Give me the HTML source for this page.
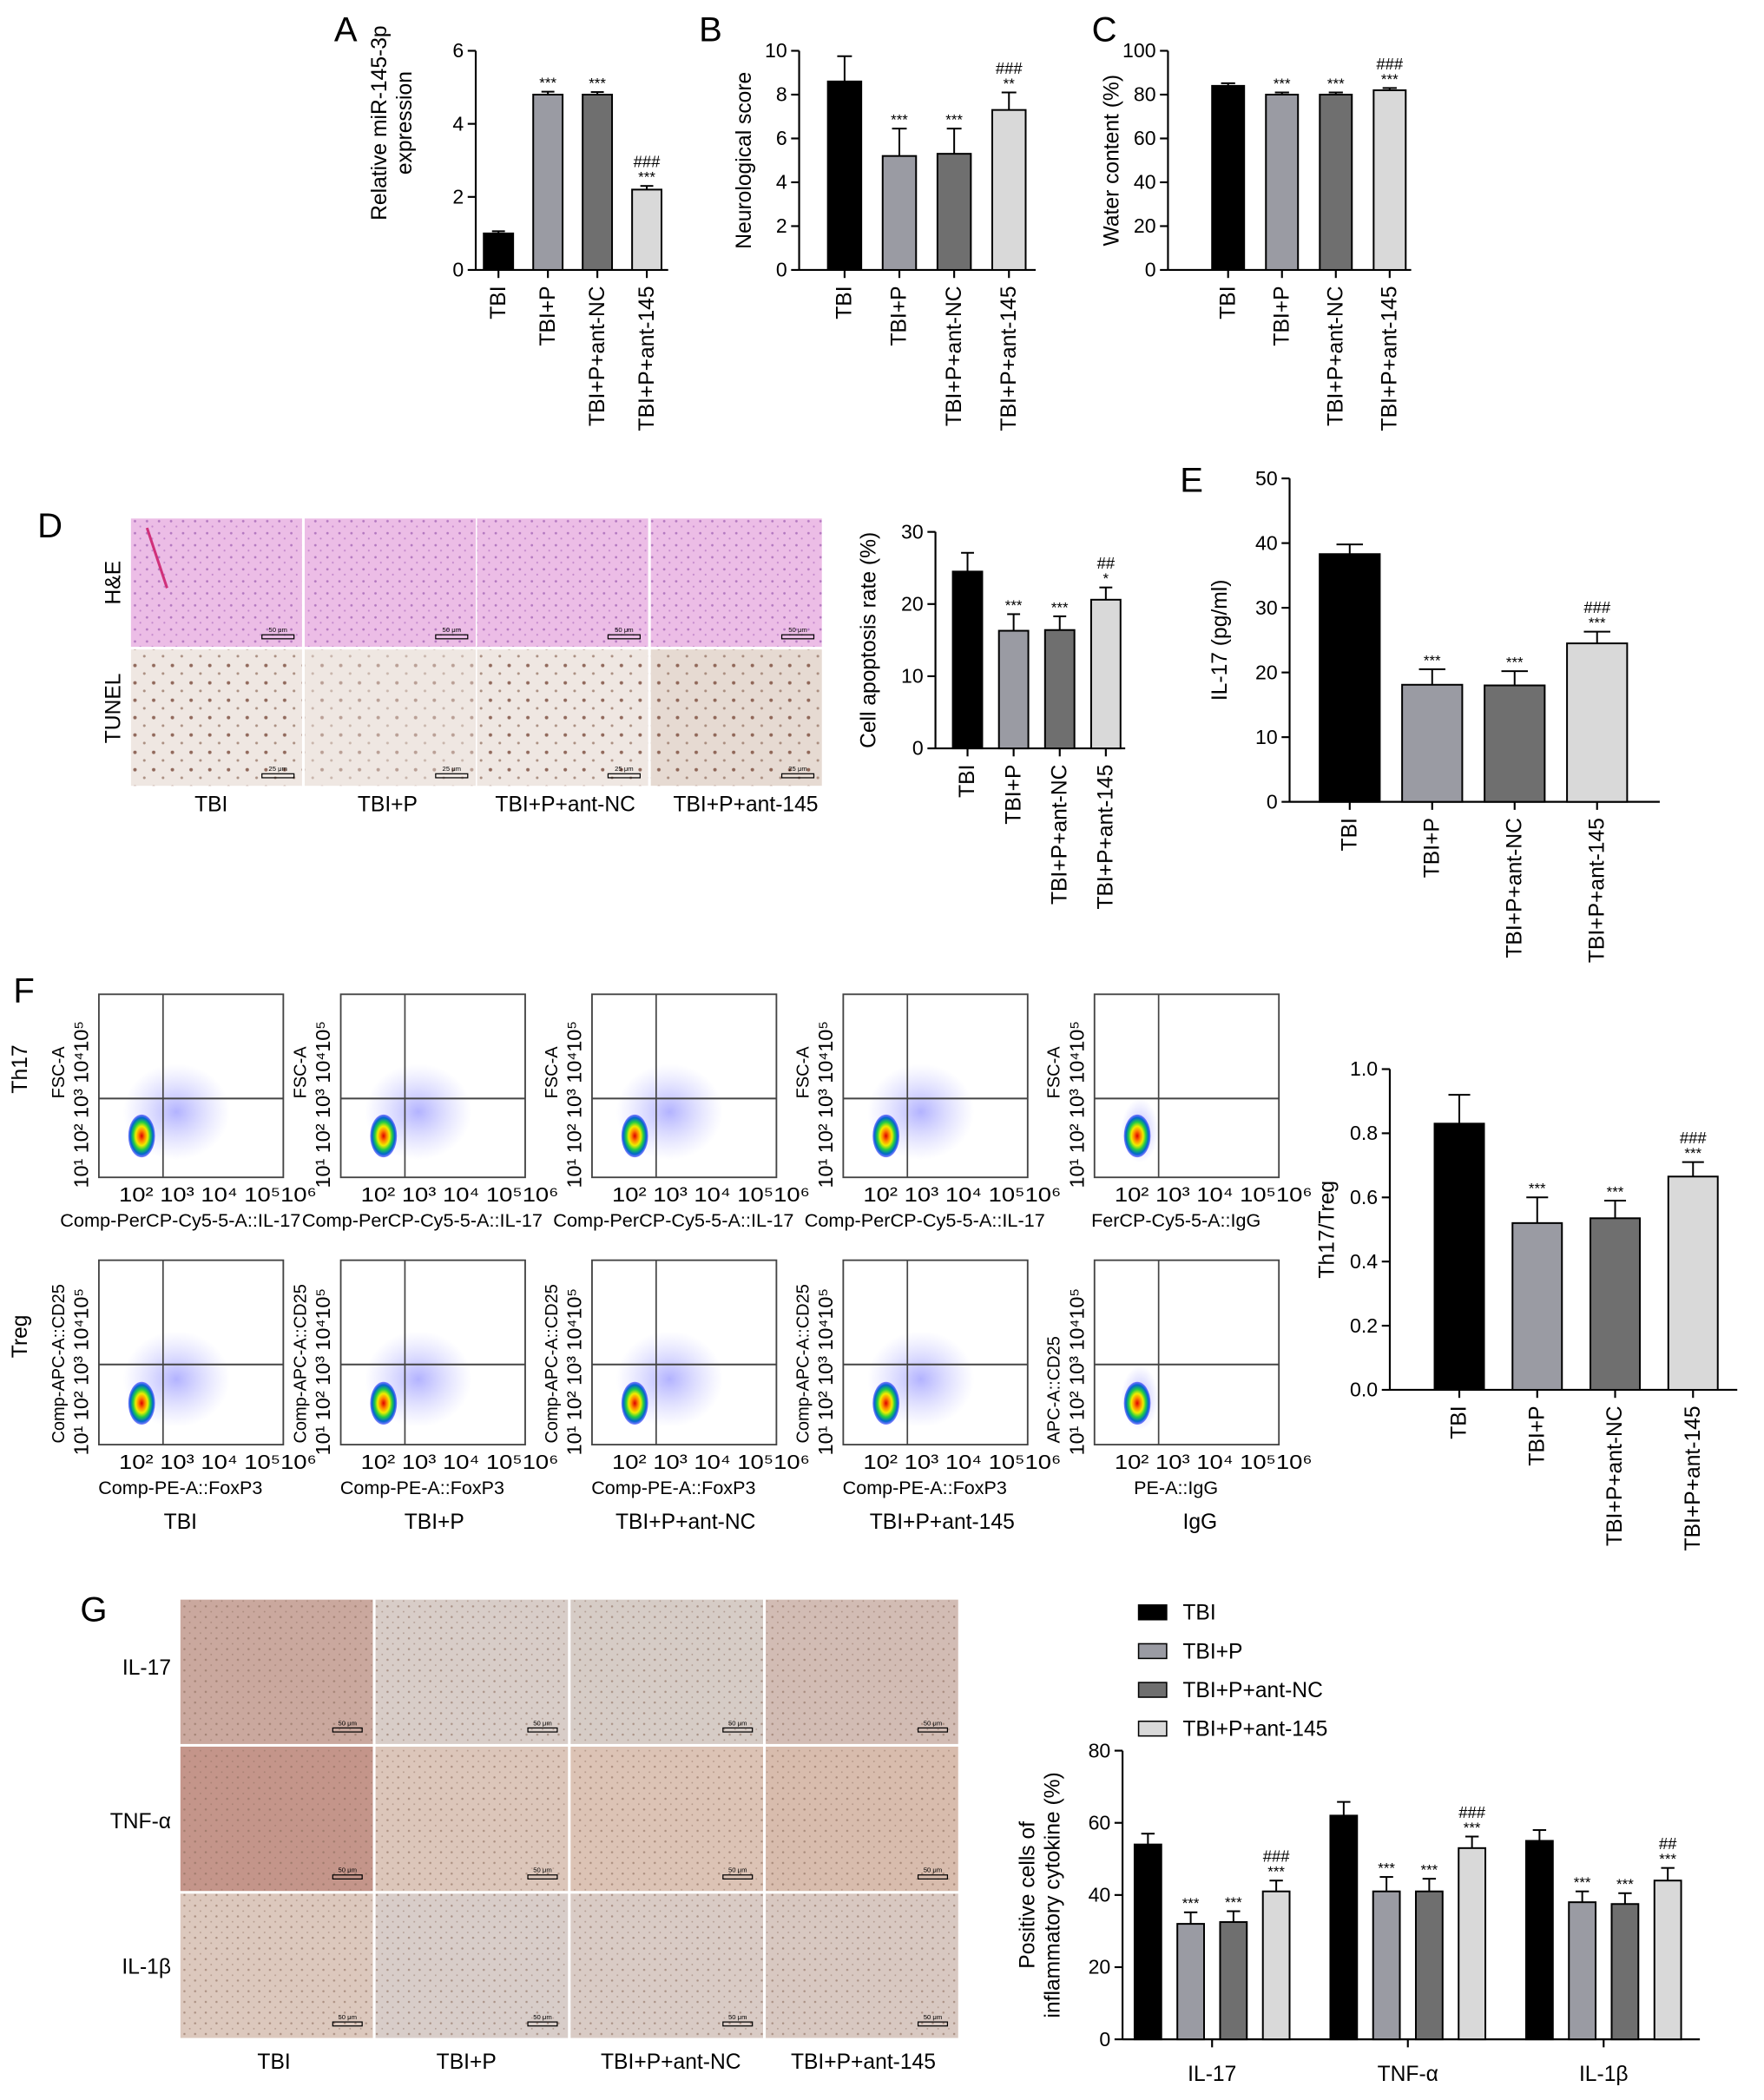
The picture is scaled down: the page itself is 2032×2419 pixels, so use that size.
<!DOCTYPE html>
<html><head><meta charset="utf-8"><style>
html,body{margin:0;padding:0;background:#fff}
svg{display:block}
text{font-family:"Liberation Sans",Arial,sans-serif;fill:#000}
</style></head><body>
<svg id="fig" xmlns="http://www.w3.org/2000/svg" width="2032" height="2419" viewBox="0 0 1320 1571.4">
<defs>
<radialGradient id="blob" cx="50%" cy="50%" r="50%">
<stop offset="0%" stop-color="#d00"/><stop offset="25%" stop-color="#f80"/><stop offset="45%" stop-color="#ee0"/><stop offset="65%" stop-color="#2c4"/><stop offset="85%" stop-color="#06c"/><stop offset="100%" stop-color="#33f" stop-opacity="0.6"/>
</radialGradient>
<radialGradient id="haze" cx="50%" cy="50%" r="50%">
<stop offset="0%" stop-color="#55f" stop-opacity="0.45"/><stop offset="100%" stop-color="#88f" stop-opacity="0"/>
</radialGradient>
<pattern id="dotsT" width="14" height="13" patternUnits="userSpaceOnUse"><circle cx="3" cy="4" r="1.3" fill="#7a4a3a"/><circle cx="10" cy="10" r="1" fill="#9a7a6a"/></pattern>
<pattern id="dotsH" width="9" height="9" patternUnits="userSpaceOnUse"><circle cx="2" cy="3" r="0.9" fill="#9a5ab0"/><circle cx="6" cy="7" r="0.7" fill="#b070c0"/></pattern>
<pattern id="dotsG" width="8" height="8" patternUnits="userSpaceOnUse"><circle cx="2" cy="2" r="0.8" fill="#8a6a5a" fill-opacity="0.6"/><circle cx="6" cy="6" r="0.6" fill="#8a6a5a" fill-opacity="0.5"/></pattern>
</defs>
</svg>
<script>
const groups=["TBI","TBI+P","TBI+P+ant-NC","TBI+P+ant-145"];
const colors=["#000000","#9a9ba3","#6f6f6f","#d9d9d9"];
const aValues=[1.0,4.8,4.8,2.2];
const aErrors=[0.06,0.08,0.07,0.1];
const aTicks=[0,2,4,6];
const aStars=["","***","***","***"];
const aHash=["","","","###"];
const bValues=[8.6,5.2,5.3,7.3];
const bErrors=[1.15,1.25,1.15,0.8];
const bTicks=[0,2,4,6,8,10];
const bStars=["","***","***","**"];
const bHash=["","","","###"];
const cValues=[84,80,80,82];
const cErrors=[1.2,1.0,1.0,1.0];
const cTicks=[0,20,40,60,80,100];
const cStars=["","***","***","***"];
const cHash=["","","","###"];
const dValues=[24.5,16.3,16.4,20.6];
const dErrors=[2.6,2.3,1.9,1.7];
const dTicks=[0,10,20,30];
const dStars=["","***","***","*"];
const dHash=["","","","##"];
const eValues=[38.3,18.1,18.0,24.5];
const eErrors=[1.5,2.4,2.2,1.8];
const eTicks=[0,10,20,30,40,50];
const eStars=["","***","***","***"];
const eHash=["","","","###"];
const fValues=[0.83,0.52,0.535,0.665];
const fErrors=[0.09,0.08,0.055,0.045];
const fTicks=[0.0,0.2,0.4,0.6,0.8,1.0];
const fStars=["","***","***","***"];
const fHash=["","","","###"];
const gCats=["IL-17","TNF-α","IL-1β"];
const gIL17=[54,32,32.5,41];
const gTNF=[62,41,41,53];
const gIL1b=[55,38,37.5,44];
const gErrIL17=[3,3.2,3,3];
const gErrTNF=[3.8,4,3.5,3.2];
const gErrIL1b=[3,3,3,3.5];
const gStars=["","***","***","***"];
const gHashes=["###","###","##"];
const gTicks=[0,20,40,60,80];

const NS="http://www.w3.org/2000/svg";
const svg=document.getElementById('fig');
function mk(tag,attrs,parent){const e=document.createElementNS(NS,tag);for(const k in attrs)e.setAttribute(k,attrs[k]);(parent||svg).appendChild(e);return e;}
function txt(s,x,y,size,attrs,parent){const t=mk('text',Object.assign({x:x,y:y,'font-size':size},attrs||{}),parent);t.textContent=s;return t;}

function barChart(cfg){
  const g=mk('g',{});
  
  
  const max=cfg.ticks[cfg.ticks.length-1];
  const ys=v=>cfg.yb-(v/max)*(cfg.yb-cfg.yt);
  const xs=i=>cfg.c0+i*cfg.step;
  const ya=mk('line',{x1:cfg.x0,y1:cfg.yt,x2:cfg.x0,y2:cfg.yb,stroke:'#000','stroke-width':1.4},g);
  
  
  cfg.ticks.forEach(t=>{
    mk('line',{x1:cfg.x0-6,y1:ys(t),x2:cfg.x0,y2:ys(t),stroke:'#000','stroke-width':1.4},g);
    const tl=txt(cfg.fmt?cfg.fmt(t):String(t),cfg.x0-9,ys(t)+5,cfg.fs||15,{'text-anchor':'end'},g);
    
    
  });
  const xa=mk('line',{x1:cfg.x0,y1:cfg.yb,x2:cfg.xe,y2:cfg.yb,stroke:'#000','stroke-width':1.4},g);
  
  
  cfg.values.forEach((v,i)=>{
    const cx=xs(i),w=cfg.bw;
    const top=ys(v),et=ys(v+cfg.errors[i]);
    mk('line',{x1:cx,y1:top,x2:cx,y2:et,stroke:'#000','stroke-width':1.3},g);
    mk('line',{x1:cx-w*0.22,y1:et,x2:cx+w*0.22,y2:et,stroke:'#000','stroke-width':1.3},g);
    const b=mk('rect',{x:cx-w/2,y:top,width:w,height:cfg.yb-top,fill:colors[i],stroke:'#000','stroke-width':1.3},g);
    
    
    mk('line',{x1:cx,y1:cfg.yb,x2:cx,y2:cfg.yb+6,stroke:'#000','stroke-width':1.4},g);
    if(cfg.stars[i]){const s=txt(cfg.stars[i],cx,et-3,11,{'text-anchor':'middle'},g);
      
      }
    if(cfg.hash[i]){const h=txt(cfg.hash[i],cx,et-14,12,{'text-anchor':'middle'},g);
      
      }
    const lx=cx+5,ly=cfg.yb+12;
    const xl=txt(groups[i],lx,ly,cfg.fs||16,{'text-anchor':'end',transform:`rotate(-90 ${lx} ${ly})`},g);
    
    
  });
  cfg.title.forEach((t,k)=>{
    const tx=cfg.tx+k*19,ty=(cfg.yt+cfg.yb)/2+(cfg.tyOff||0);
    const tt=txt(t,tx,ty,cfg.tfs||16,{'text-anchor':'middle',transform:`rotate(-90 ${tx} ${ty})`},g);
    
    
  });
}
function letter(s,x,y){const t=txt(s,x,y,26,{});
  
  }

letter('A',250,31);letter('B',523,31);letter('C',817,31);letter('D',28,402);letter('E',883,368);letter('F',10,750);letter('G',60,1213);

barChart({name:'chart-a-mir145',x0:356,yt:38,yb:202,xe:500,c0:373,step:37,bw:22,values:aValues,errors:aErrors,ticks:aTicks,stars:aStars,hash:aHash,title:['Relative miR-145-3p','expression'],tx:289,tyOff:-28});
barChart({name:'chart-b-neuro',x0:598,yt:38,yb:202,xe:775,c0:632,step:41,bw:25,values:bValues,errors:bErrors,ticks:bTicks,stars:bStars,hash:bHash,title:['Neurological score'],tx:562});
barChart({name:'chart-c-water',x0:874,yt:38,yb:202,xe:1056,c0:919,step:40.3,bw:24,values:cValues,errors:cErrors,ticks:cTicks,stars:cStars,hash:cHash,title:['Water content (%)'],tx:837});
barChart({name:'chart-d-apoptosis',x0:700,yt:398,yb:560,xe:842,c0:724,step:34.5,bw:22,values:dValues,errors:dErrors,ticks:dTicks,stars:dStars,hash:dHash,title:['Cell apoptosis rate (%)'],tx:655});
barChart({name:'chart-e-il17',x0:965,yt:358,yb:600,xe:1242,c0:1010,step:61.7,bw:45,values:eValues,errors:eErrors,ticks:eTicks,stars:eStars,hash:eHash,title:['IL-17 (pg/ml)'],tx:918});
barChart({name:'chart-f-th17-treg',x0:1040,yt:800,yb:1040,xe:1300,c0:1092,step:58.3,bw:37,values:fValues,errors:fErrors,ticks:fTicks,stars:fStars,hash:fHash,title:['Th17/Treg'],tx:998,fmt:t=>t.toFixed(1)});

// Panel D histology
(function(){
  const cols=[98,228,357,487],w=128;
  cols.forEach((x,i)=>{
    const h=mk('rect',{x:x,y:388,width:w,height:96,fill:'#ecbde6'});
    
    
    mk('rect',{x:x,y:388,width:w,height:96,fill:'url(#dotsH)',opacity:0.7});
    const t=mk('rect',{x:x,y:486,width:w,height:102,fill:i==3?'#e6dad2':'#efe7e2'});
    
    
    mk('rect',{x:x,y:486,width:w,height:102,fill:'url(#dotsT)',opacity:i==1?0.45:0.8});
    mk('rect',{x:x+98,y:475,width:24,height:3,fill:'none',stroke:'#000','stroke-width':0.8});
    mk('rect',{x:x+98,y:579,width:24,height:3,fill:'none',stroke:'#000','stroke-width':0.8});
    txt('50 μm',x+110,473,5,{'text-anchor':'middle'});
    txt('25 μm',x+110,577,5,{'text-anchor':'middle'});
  });
  mk('line',{x1:110,y1:395,x2:125,y2:440,stroke:'#d0307a','stroke-width':2});
  const lbl=[['TBI',158],['TBI+P',290],['TBI+P+ant-NC',423],['TBI+P+ant-145',558]];
  lbl.forEach(l=>{const t=txt(l[0],l[1],607,16,{'text-anchor':'middle'});
    
    });
  [['H&E',436],['TUNEL',530]].forEach(r=>{const t=txt(r[0],90,r[1],16,{'text-anchor':'middle',transform:`rotate(-90 90 ${r[1]})`});
    
    });
})();

// Panel F flow plots
(function(){
  const lefts=[74,255,443,631,819],bw=138;
  const rows=[{yt:744,yb:881,gy:822,ylab:'FSC-A',xlab:'Comp-PerCP-Cy5-5-A::IL-17'},{yt:943,yb:1081,gy:1021,ylab:'Comp-APC-A::CD25',xlab:'Comp-PE-A::FoxP3'}];
  rows.forEach((r,ri)=>{
    lefts.forEach((x,ci)=>{
      const g=mk('g',{});
      
      
      mk('rect',{x:x,y:r.yt,width:bw,height:r.yb-r.yt,fill:'#fff',stroke:'#444','stroke-width':1.2},g);
      const cx=x+32,cy=r.yb-31;
      if(ci<4)mk('ellipse',{cx:cx+26,cy:cy-18,rx:40,ry:36,fill:'url(#haze)'},g);
      else mk('ellipse',{cx:cx+2,cy:cy-4,rx:14,ry:24,fill:'url(#haze)'},g);
      mk('ellipse',{cx:cx,cy:cy,rx:10,ry:16,fill:'url(#blob)'},g);
      mk('line',{x1:x,y1:r.gy,x2:x+bw,y2:r.gy,stroke:'#444','stroke-width':1.3},g);
      mk('line',{x1:x+48,y1:r.yt,x2:x+48,y2:r.yb,stroke:'#444','stroke-width':1.1},g);
      txt('10² 10³ 10⁴ 10⁵10⁶',x+15,r.yb+18,15,{textLength:148,lengthAdjust:'spacingAndGlyphs'},g);
      const yx=x-8,yy=r.yb+8;
      txt('10¹ 10² 10³ 10⁴10⁵',yx,yy,15,{transform:`rotate(-90 ${yx} ${yy})`,textLength:125,lengthAdjust:'spacingAndGlyphs'},g);
      const yl=ci==4?(ri==0?'FSC-A':'APC-A::CD25'):r.ylab;
      const xl=ci==4?(ri==0?'FerCP-Cy5-5-A::IgG':'PE-A::IgG'):r.xlab;
      const lx=x-26;
      const long=yl.length>8;
      const ly=long?(r.yb-1):(r.yt+78);
      txt(yl,lx,ly,13,{transform:`rotate(-90 ${lx} ${ly})`},g);
      const xt=txt(xl,x+bw/2-8,r.yb+37,14,{'text-anchor':'middle'},g);
      if(xl.length>20){xt.setAttribute('textLength',180);xt.setAttribute('lengthAdjust','spacingAndGlyphs');}
    });
  });
  [['Th17',20,800],['Treg',20,1000]].forEach(r=>{const t=txt(r[0],r[1],r[2],16,{'text-anchor':'middle',transform:`rotate(-90 ${r[1]} ${r[2]})`});
    
    });
  [['TBI',135],['TBI+P',325],['TBI+P+ant-NC',513],['TBI+P+ant-145',705],['IgG',898]].forEach(l=>{
    const t=txt(l[0],l[1],1144,16,{'text-anchor':'middle'});
    
    });
})();

// Panel G IHC images
(function(){
  const cols=[135,281,427,573],rowsY=[1197,1307,1417],w=144,h=108;
  const fills=[["#caa89e","#d8cdc8","#d6ccc6","#d2bcb4"],["#c4958a","#dcc6ba","#dcc3b5","#d8bcad"],["#dcc8bd","#d8cdc9","#d9cbc5","#d8c8c1"]];
  rowsY.forEach((y,ri)=>cols.forEach((x,ci)=>{
    const r=mk('rect',{x:x,y:y,width:w,height:h,fill:fills[ri][ci]});
    
    
    mk('rect',{x:x,y:y,width:w,height:h,fill:'url(#dotsG)'});
    mk('rect',{x:x+114,y:y+h-12,width:22,height:3,fill:'none',stroke:'#000','stroke-width':0.8});
    txt('50 μm',x+125,y+h-14,5,{'text-anchor':'middle'});
  }));
  [['IL-17',1253],['TNF-α',1368],['IL-1β',1477]].forEach(r=>{const t=txt(r[0],128,r[1],16,{'text-anchor':'end'});
    
    });
  [['TBI',205],['TBI+P',349],['TBI+P+ant-NC',502],['TBI+P+ant-145',646]].forEach(l=>{
    const t=txt(l[0],l[1],1548,16,{'text-anchor':'middle'});
    
    });
})();

// Panel G grouped bar chart
(function(){
  const g=mk('g',{});
  
  
  const x0=840,yt=1310,yb=1526,max=80;
  const ys=v=>yb-(v/max)*(yb-yt);
  const series=[gIL17,gTNF,gIL1b],errs=[gErrIL17,gErrTNF,gErrIL1b];
  const gx=k=>907+k*146.5, bx=(k,i)=>gx(k)+(i-1.5)*32, bw=20;
  mk('line',{x1:x0,y1:yt,x2:x0,y2:yb,stroke:'#000','stroke-width':1.4},g);
  mk('line',{x1:x0,y1:yb,x2:1272,y2:yb,stroke:'#000','stroke-width':1.4},g);
  gTicks.forEach(t=>{mk('line',{x1:x0-6,y1:ys(t),x2:x0,y2:ys(t),stroke:'#000','stroke-width':1.4},g);
    const tl=txt(String(t),x0-9,ys(t)+5,15,{'text-anchor':'end'},g);
    
    });
  series.forEach((vals,k)=>{
    vals.forEach((v,i)=>{
      const cx=bx(k,i),top=ys(v),et=ys(v+errs[k][i]);
      mk('line',{x1:cx,y1:top,x2:cx,y2:et,stroke:'#000','stroke-width':1.3},g);
      mk('line',{x1:cx-5,y1:et,x2:cx+5,y2:et,stroke:'#000','stroke-width':1.3},g);
      const b=mk('rect',{x:cx-bw/2,y:top,width:bw,height:yb-top,fill:colors[i],stroke:'#000','stroke-width':1.3},g);
      
      
      if(gStars[i])txt(gStars[i],cx,et-3,11,{'text-anchor':'middle'},g);
      if(i==3)txt(gHashes[k],cx,et-14,12,{'text-anchor':'middle'},g);
    });
    mk('line',{x1:gx(k),y1:yb,x2:gx(k),y2:yb+6,stroke:'#000','stroke-width':1.4},g);
    const cl=txt(gCats[k],gx(k),1557,16,{'text-anchor':'middle'},g);
    
    
  });
  ['Positive cells of','inflammatory cytokine (%)'].forEach((t,k)=>{
    const tx=774+k*19,ty=1418;
    const tt=txt(t,tx,ty,16,{'text-anchor':'middle',transform:`rotate(-90 ${tx} ${ty})`},g);
    
    
  });
  groups.forEach((n,i)=>{
    const y=1207+i*29;
    const lg=mk('g',{},g);
    
    
    mk('rect',{x:852,y:y-6,width:21,height:11,fill:colors[i],stroke:'#000','stroke-width':1},lg);
    txt(n,885,y+5,16,{},lg);
  });
})();
</script>
</body></html>
